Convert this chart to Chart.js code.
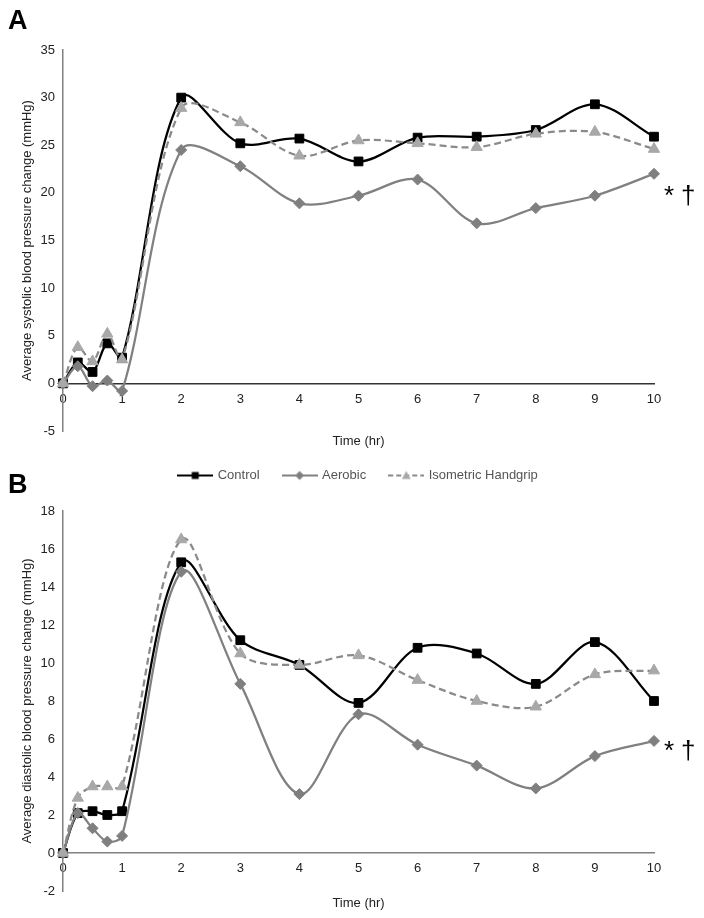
<!DOCTYPE html>
<html>
<head>
<meta charset="utf-8">
<script src="https://cdn.jsdelivr.net/npm/chart.js@4.4.1/dist/chart.umd.min.js"></script>
<style>
  html, body { margin: 0; padding: 0; background: #fff; }
  body { width: 704px; height: 918px; position: relative; overflow: hidden; font-family: "Liberation Sans", Arial, sans-serif; }
  #ca { position: absolute; left: 0; top: 0; }
  #cb { position: absolute; left: 0; top: 445px; }
  .pl { position: absolute; font-weight: bold; font-size: 27px; line-height: 1; color: #000; }
  .sig { position: absolute; font-size: 26px; line-height: 1; color: #000; }
</style>
</head>
<body>
<canvas id="ca" width="704" height="458"></canvas>
<canvas id="cb" width="704" height="473"></canvas>
<div class="pl" style="left:8px;top:7px">A</div>
<div class="pl" style="left:8px;top:471px">B</div>
<div class="sig" style="left:664px;top:182px">*</div>
<div class="sig" style="left:681px;top:182px">†</div>
<div class="sig" style="left:664px;top:737px">*</div>
<div class="sig" style="left:681px;top:737px">†</div>
<script>
// ---- data ----
const timeHr = [0, 0.25, 0.5, 0.75, 1, 2, 3, 4, 5, 6, 7, 8, 9, 10];
const seriesNames = ['Control', 'Aerobic', 'Isometric Handgrip'];

const sysControl   = [0, 2.2, 1.2, 4.2, 2.7, 30.0, 25.2, 25.7, 23.3, 25.8, 25.9, 26.6, 29.3, 25.9];
const sysAerobic   = [0, 1.8, -0.3, 0.3, -0.8, 24.5, 22.8, 18.9, 19.7, 21.4, 16.8, 18.4, 19.7, 22.0];
const sysIsometric = [0, 3.8, 2.3, 5.2, 2.5, 28.9, 27.4, 23.9, 25.5, 25.2, 24.8, 26.2, 26.4, 24.6];

const diaControl   = [0, 2.1, 2.2, 2.0, 2.2, 15.3, 11.2, 9.9, 7.9, 10.8, 10.5, 8.9, 11.1, 8.0];
const diaAerobic   = [0, 2.1, 1.3, 0.6, 0.9, 14.8, 8.9, 3.1, 7.3, 5.7, 4.6, 3.4, 5.1, 5.9];
const diaIsometric = [0, 2.9, 3.5, 3.5, 3.5, 16.5, 10.5, 9.9, 10.4, 9.1, 8.0, 7.7, 9.4, 9.6];

const xTicksMin = 0, xTicksMax = 10, xStep = 1;
const sysMin = -5, sysMax = 35, sysStep = 5;
const diaMin = -2, diaMax = 18, diaStep = 2;

// ---- styling ----
Chart.defaults.font.family = '"Liberation Sans", Arial, sans-serif';
Chart.defaults.font.size = 13;
const textColor = '#222';
const styles = [
  { line: '#000000', dash: [], marker: '#000000', shape: 'rect', r: 6.2, order: 3 },
  { line: '#808080', dash: [], marker: '#7f7f7f', shape: 'rectRot', r: 5.5, order: 2 },
  { line: '#8a8a8a', dash: [7, 4], marker: '#a8a8a8', shape: 'triangle', r: 6.5, order: 1 }
];

function pts(vals) { return timeHr.map((t, i) => ({ x: t, y: vals[i] })); }

function makeDatasets(arrs) {
  return arrs.map((vals, i) => ({
    label: seriesNames[i],
    data: pts(vals),
    xAxisID: 'x', yAxisID: 'y',
    borderColor: styles[i].line,
    borderWidth: 2.25,
    borderDash: styles[i].dash,
    tension: 0.33,
    pointStyle: styles[i].shape,
    pointRadius: styles[i].r,
    pointBackgroundColor: styles[i].marker,
    pointBorderColor: styles[i].marker,
    pointBorderWidth: 1,
    order: styles[i].order,
    clip: false
  }));
}

function legendSample(st) {
  const c = document.createElement('canvas');
  c.width = 36; c.height = 12;
  const g = c.getContext('2d');
  g.strokeStyle = st.line; g.lineWidth = 2; g.setLineDash(st.dash.length ? [5, 3] : []);
  g.beginPath(); g.moveTo(0, 6); g.lineTo(36, 6); g.stroke();
  g.setLineDash([]);
  g.fillStyle = st.marker;
  g.beginPath();
  if (st.shape === 'rect') g.rect(14.5, 2.5, 7, 7);
  else if (st.shape === 'rectRot') { g.moveTo(18, 1.5); g.lineTo(22.5, 6); g.lineTo(18, 10.5); g.lineTo(13.5, 6); g.closePath(); }
  else { g.moveTo(18, 1.5); g.lineTo(22.5, 9.5); g.lineTo(13.5, 9.5); g.closePath(); }
  g.fill();
  return c;
}

function makeScales(yTitle, yMin, yMax, yStep, xAxisColor, titlePadBottom, bottomH) {
  return {
    x: {
      type: 'linear', axis: 'x', min: xTicksMin, max: xTicksMax,
      position: { y: 0 },
      ticks: { stepSize: xStep, padding: 8, color: textColor, autoSkip: false, maxRotation: 0 },
      grid: { display: false, drawTicks: false },
      border: { display: true, color: xAxisColor, width: 1.5 }
    },
    xt: {
      type: 'linear', axis: 'x', position: 'bottom', min: xTicksMin, max: xTicksMax,
      ticks: { display: false },
      grid: { display: false, drawTicks: false },
      border: { display: false },
      title: { display: true, text: 'Time (hr)', color: textColor, padding: { top: 0, bottom: titlePadBottom } },
      afterFit: (s) => { s.height = bottomH; }
    },
    y: {
      type: 'linear', min: yMin, max: yMax,
      ticks: { stepSize: yStep, padding: 8, color: textColor },
      grid: { display: false, drawTicks: false },
      border: { display: true, color: '#808080', width: 1.5 },
      title: { display: true, text: yTitle, color: textColor, padding: { top: 20, bottom: 0 } },
      afterFit: (s) => { s.width = 63; }
    }
  };
}

// ---- Chart A ----
new Chart(document.getElementById('ca'), {
  type: 'line',
  data: { datasets: makeDatasets([sysControl, sysAerobic, sysIsometric]) },
  options: {
    responsive: false, animation: false, devicePixelRatio: 1,
    layout: { padding: { top: 50, right: 50, left: 0, bottom: 0 } },
    plugins: { legend: { display: false }, tooltip: { enabled: false } },
    scales: makeScales('Average systolic blood pressure change (mmHg)', sysMin, sysMax, sysStep, '#333333', 8.7, 27)
  }
});

// ---- Chart B ----
const scalesB = makeScales('Average diastolic blood pressure change (mmHg)', diaMin, diaMax, diaStep, '#808080', 6.7, 27);
scalesB.xtop = {
  type: 'linear', axis: 'x', position: 'top', min: xTicksMin, max: xTicksMax,
  ticks: { display: false }, grid: { display: false, drawTicks: false }, border: { display: false },
  afterFit: (s) => { const lh = (s.chart.legend && s.chart.legend.height) || 47; s.height = Math.max(0, 66 - lh); }
};
const samples = styles.map(legendSample);
new Chart(document.getElementById('cb'), {
  type: 'line',
  data: { datasets: makeDatasets([diaControl, diaAerobic, diaIsometric]) },
  options: {
    responsive: false, animation: false, devicePixelRatio: 1,
    layout: { padding: { top: 0, right: 50, left: 0, bottom: 0 } },
    plugins: {
      tooltip: { enabled: false },
      legend: {
        display: true, position: 'top', fullSize: false,
        labels: {
          usePointStyle: true, pointStyleWidth: 32, padding: 24, color: '#555',
          generateLabels: () => seriesNames.map((name, i) => ({
            text: name, pointStyle: samples[i], rotation: 0, fillStyle: styles[i].marker,
            strokeStyle: styles[i].line, lineWidth: 0, hidden: false, datasetIndex: i, fontColor: '#555'
          }))
        }
      }
    },
    scales: scalesB
  }
});
</script>
</body>
</html>
